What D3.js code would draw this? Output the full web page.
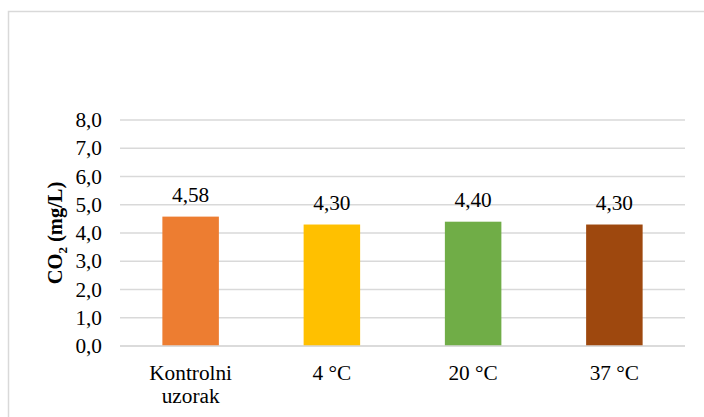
<!DOCTYPE html>
<html>
<head>
<meta charset="utf-8">
<script src="https://cdn.jsdelivr.net/npm/d3@7"></script>
<style>
  body { margin: 0; background: #fff; }
</style>
</head>
<body>
<svg id="chart" width="704" height="417" font-family="'Liberation Serif', 'Times New Roman', Times, serif"></svg>
<script>
// data
var categories = [["Kontrolni", "uzorak"], ["4 °C"], ["20 °C"], ["37 °C"]];
var values = [4.58, 4.30, 4.40, 4.30];
var labels = ["4,58", "4,30", "4,40", "4,30"];
var colors = ["#ED7D31", "#FFC000", "#70AD47", "#9E480E"];
var yTicks = [0, 1, 2, 3, 4, 5, 6, 7, 8];

var svg = d3.select("#chart");
var fs = 21.3;

// chart border (runs off the right and bottom edge)
svg.append("rect")
  .attr("x", 8.5).attr("y", 11.5)
  .attr("width", 720).attr("height", 430)
  .attr("fill", "#fff")
  .attr("stroke", "#D9D9D9")
  .attr("stroke-width", 1.5);

var x = d3.scaleBand()
  .domain(d3.range(values.length))
  .range([120, 685])
  .padding(0);

var y = d3.scaleLinear()
  .domain([0, 8])
  .range([346, 120]);

// gridlines
svg.append("g").selectAll("line")
  .data(yTicks)
  .enter().append("line")
  .attr("x1", 120).attr("x2", 685)
  .attr("y1", function (d) { return y(d); })
  .attr("y2", function (d) { return y(d); })
  .attr("stroke", "#D9D9D9")
  .attr("stroke-width", 1.5);

// y tick labels
svg.append("g").selectAll("text")
  .data(yTicks)
  .enter().append("text")
  .attr("x", 102)
  .attr("y", function (d) { return y(d); })
  .attr("dy", "0.33em")
  .attr("text-anchor", "end")
  .attr("font-size", fs)
  .text(function (d) { return d.toFixed(1).replace(".", ","); });

// bars
var barW = x.bandwidth() * 0.4;
svg.append("g").selectAll("rect")
  .data(values)
  .enter().append("rect")
  .attr("x", function (d, i) { return x(i) + (x.bandwidth() - barW) / 2; })
  .attr("y", function (d) { return y(d); })
  .attr("width", barW)
  .attr("height", function (d) { return y(0) - y(d); })
  .attr("fill", function (d, i) { return colors[i]; });

// redraw baseline over bars
svg.append("line")
  .attr("x1", 120).attr("x2", 685)
  .attr("y1", y(0)).attr("y2", y(0))
  .attr("stroke", "#D9D9D9")
  .attr("stroke-width", 1.5);

// value labels
svg.append("g").selectAll("text")
  .data(values)
  .enter().append("text")
  .attr("x", function (d, i) { return x(i) + x.bandwidth() / 2; })
  .attr("y", function (d) { return y(d) - 15; })
  .attr("text-anchor", "middle")
  .attr("font-size", fs)
  .text(function (d, i) { return labels[i]; });

// category labels
var cat = svg.append("g").selectAll("text")
  .data(categories)
  .enter().append("text")
  .attr("x", function (d, i) { return x(i) + x.bandwidth() / 2; })
  .attr("y", 380)
  .attr("text-anchor", "middle")
  .attr("font-size", fs);
cat.selectAll("tspan")
  .data(function (d) { return d; })
  .enter().append("tspan")
  .attr("x", function () { return d3.select(this.parentNode).attr("x"); })
  .attr("dy", function (d, i) { return i === 0 ? 0 : 22.5; })
  .text(function (d) { return d; });

// y axis title
var title = svg.append("text")
  .attr("transform", "translate(62," + ((y(0) + y(8)) / 2) + ") rotate(-90)")
  .attr("text-anchor", "middle")
  .attr("font-size", 20.5)
  .attr("font-weight", "bold");
title.append("tspan").text("CO");
title.append("tspan").attr("dy", 5).attr("font-size", 13).text("2");
title.append("tspan").attr("dy", -5).text(" (mg/L)");
</script>
</body>
</html>
